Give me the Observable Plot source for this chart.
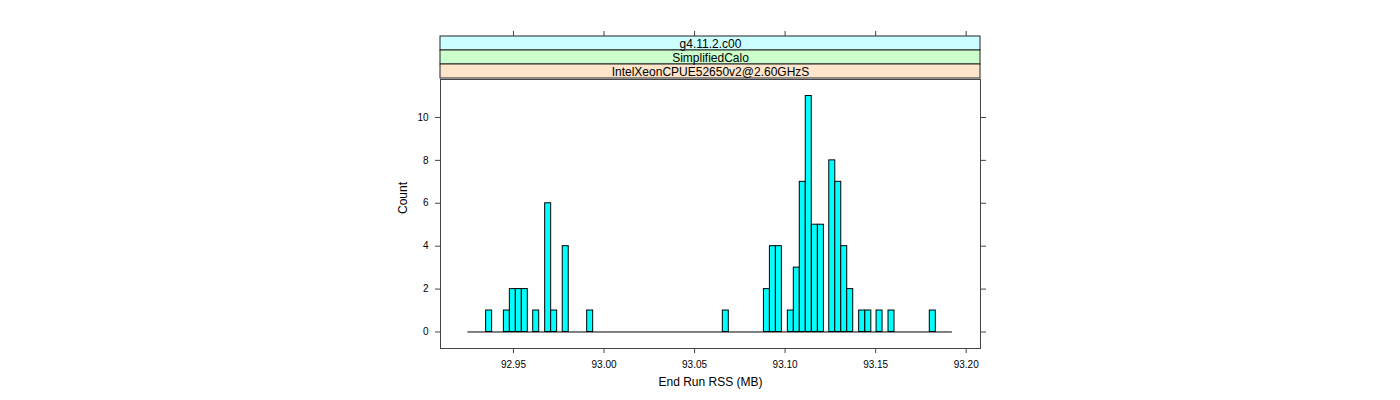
<!DOCTYPE html>
<html>
<head>
<meta charset="utf-8">
<script src="https://cdn.jsdelivr.net/npm/d3@7"></script>
<script src="https://cdn.jsdelivr.net/npm/@observablehq/plot@0.6"></script>
<style>
  html, body { margin: 0; padding: 0; background: #fff; }
  #chart { width: 1400px; height: 400px; }
  #chart svg { display: block; }
</style>
</head>
<body>
<div id="chart"></div>
<script>
// ---- data ----
const stripLabels = ["g4.11.2.c00", "SimplifiedCalo", "IntelXeonCPUE52650v2@2.60GHzS"];
const stripColors = ["#CCFFFF", "#CCFFCC", "#FFE5CC"];

// left edge of each non-empty histogram bin (MB) and its count
const binLeft = [
  92.9349, 92.9447, 92.9480, 92.9513, 92.9546, 92.9609, 92.9675, 92.9708, 92.9772, 92.9907,
  93.0656, 93.0883, 93.0916, 93.0949, 93.1015, 93.1048, 93.1081, 93.1114, 93.1148, 93.1181,
  93.1244, 93.1277, 93.1310, 93.1343, 93.1409, 93.1443, 93.1505, 93.1571, 93.1799
];
const binCount = [
  1, 1, 2, 2, 2, 1, 6, 1, 4, 1,
  1, 2, 4, 4, 1, 3, 7, 11, 5, 5,
  8, 7, 4, 2, 1, 1, 1, 1, 1
];
const binWidth = 0.00331;
const breaksRange = [92.9248, 93.1924];

const xDomain = [92.9097, 93.2079];
const yDomain = [-0.77, 11.77];
const xTicks = [92.95, 93.00, 93.05, 93.10, 93.15, 93.20];
const yTicks = [0, 2, 4, 6, 8, 10];
const xLabel = "End Run RSS (MB)";
const yLabel = "Count";

// ---- build tables ----
const strips = stripLabels.map((label, i) => ({label, color: stripColors[i]}));
const bins = binLeft.map((x, i) => ({x1: x, x2: x + binWidth, count: binCount[i]}));

const font = "'Liberation Sans', Arial, Helvetica, sans-serif";
const lineColor = "#444";

const stripPlot = Plot.plot({
  width: 1400,
  height: 79,
  marginTop: 35,
  marginBottom: 0,
  marginLeft: 440,
  marginRight: 420,
  style: {fontFamily: font, fontSize: "10px", background: "white", color: "black"},
  x: {domain: xDomain},
  y: {type: "band", domain: stripLabels, padding: 0, axis: null},
  color: {type: "identity"},
  marks: [
    Plot.cell(strips, {y: "label", fill: "color", stroke: "#222", strokeWidth: 1}),
    Plot.text(strips, {y: "label", text: "label", fontSize: 12, fill: "black", dy: 0.5}),
    Plot.axisX({anchor: "top", ticks: xTicks, tickSize: 5, tickFormat: () => "", stroke: lineColor, label: null})
  ]
});

const mainPlot = Plot.plot({
  width: 1400,
  height: 321,
  marginTop: 0,
  marginBottom: 52,
  marginLeft: 440,
  marginRight: 420,
  style: {fontFamily: font, fontSize: "10px", background: "white", color: "black"},
  x: {domain: xDomain},
  y: {domain: yDomain},
  marks: [
    Plot.frame({stroke: lineColor}),
    Plot.ruleY([0], {x1: breaksRange[0], x2: breaksRange[1], stroke: "black"}),
    Plot.rectY(bins, {x1: "x1", x2: "x2", y1: 0, y2: "count", fill: "#00FFFF", stroke: "black", strokeWidth: 1}),
    Plot.axisX({anchor: "bottom", ticks: xTicks, tickSize: 5, tickPadding: 7, tickFormat: d3.format(".2f"), stroke: lineColor, label: null}),
    Plot.axisY({anchor: "left", ticks: yTicks, tickSize: 5, tickPadding: 7, stroke: lineColor, label: null}),
    Plot.axisY({anchor: "right", ticks: yTicks, tickSize: 5, tickFormat: () => "", stroke: lineColor, label: null}),
    Plot.text([yLabel], {text: d => d, frameAnchor: "left", dx: -37, rotate: -90, fontSize: 12}),
    Plot.text([xLabel], {text: d => d, frameAnchor: "bottom", dy: 37, fontSize: 12})
  ]
});

const chart = document.getElementById("chart");
chart.appendChild(stripPlot);
chart.appendChild(mainPlot);
</script>
</body>
</html>
